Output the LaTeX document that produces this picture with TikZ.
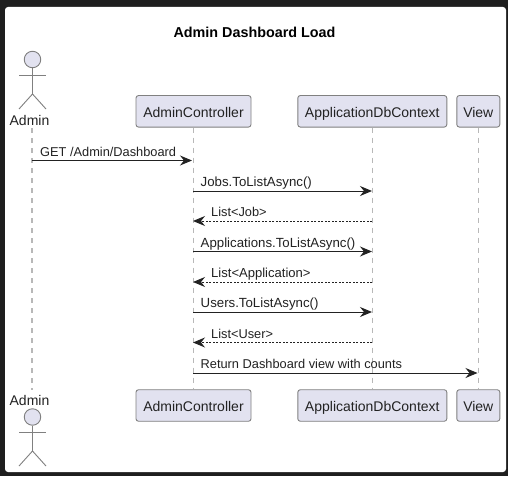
\documentclass[tikz,border=0pt]{standalone}
\usepackage{fontspec}
\setmainfont{Liberation Sans}
\usetikzlibrary{arrows.meta}
\definecolor{pagedark}{HTML}{1E1E1E}
\definecolor{boxfill}{HTML}{E2E2F0}
\definecolor{boxline}{HTML}{808080}
\definecolor{lifegrey}{HTML}{B8B8B8}
\definecolor{inkdark}{HTML}{222222}
\tikzset{
  box/.style={draw=boxline,fill=boxfill,rounded corners=2.5pt,line width=0.9pt,minimum height=31.5pt,inner sep=0pt,text height=12pt,text depth=0pt,text=inkdark,font=\fontsize{14}{16}\selectfont},
  lifeline/.style={draw=lifegrey,line width=1.1pt,dash pattern=on 5pt off 5pt},
  msg/.style={draw=inkdark,line width=1pt,-{Stealth[length=12pt,width=10pt,inset=4pt]}},
  reply/.style={msg,dash pattern=on 2pt off 1.5pt},
  msglabel/.style={anchor=base west,inner sep=0pt,text=inkdark,font=\fontsize{12.8}{15}\selectfont},
  msgwide/.style={msglabel,font=\fontsize{13.25}{15}\selectfont},
  actorhead/.style={circle,draw=boxline,fill=boxfill,line width=0.9pt,minimum size=16.5pt,inner sep=0pt},
  actorline/.style={draw=boxline,line width=0.9pt},
  actorname/.style={inner sep=0pt,text=inkdark,font=\fontsize{14}{16}\selectfont},
}
\begin{document}
\begin{tikzpicture}[x=1pt,y=-1pt]
\useasboundingbox (0,0) rectangle (508,476);
\fill[pagedark] (0,0) rectangle (508,476);
\fill[white,rounded corners=3pt] (5,7) rectangle (506,472);
\node[inner sep=0pt,text=black,font=\bfseries\fontsize{14.35}{16}\selectfont] (title) at (254.5,32) {Admin Dashboard Load};
% top row
\node[actorhead] (headtop) at (32.5,59.5) {};
\node[actorname] (admintop) at (29.5,120) {Admin};
\node[box,minimum width=115pt] (ctrltop) at (193.5,111.3) {AdminController};
\node[box,minimum width=149pt] (dbtop) at (372.3,111.3) {ApplicationDbContext};
\node[box,minimum width=43pt] (viewtop) at (478.3,111.3) {View};
% bottom row
\node[actorhead] (headbot) at (32.5,417) {};
\node[actorname] (adminbot) at (29.5,400) {Admin};
\node[box,minimum width=115pt] (ctrlbot) at (193.5,405.5) {AdminController};
\node[box,minimum width=149pt] (dbbot) at (372.3,405.5) {ApplicationDbContext};
\node[box,minimum width=43pt] (viewbot) at (478.3,405.5) {View};
% stick figures
\coordinate (hiptop) at (32.5,94);
\coordinate (armltop) at (19,75);
\coordinate (armrtop) at (46,75);
\coordinate (legltop) at (19,109);
\coordinate (legrtop) at (46,109);
\draw[actorline] (headtop) -- (hiptop);
\draw[actorline] (armltop) -- (armrtop);
\draw[actorline] (legltop) -- (hiptop) -- (legrtop);
\coordinate (hipbot) at (32.5,451);
\coordinate (armlbot) at (19,432);
\coordinate (armrbot) at (46,432);
\coordinate (leglbot) at (19,466);
\coordinate (legrbot) at (46,466);
\draw[actorline] (headbot) -- (hipbot);
\draw[actorline] (armlbot) -- (armrbot);
\draw[actorline] (leglbot) -- (hipbot) -- (legrbot);
% lifelines
\coordinate (adminstart) at (32,128);
\coordinate (adminend) at (32,390);
\draw[lifeline] (adminstart) -- (adminend);
\draw[lifeline] (ctrltop) -- (ctrlbot);
\draw[lifeline] (dbtop) -- (dbbot);
\draw[lifeline] (viewtop) -- (viewbot);
% ends of the messages
\coordinate (a1) at (32,160.5);
\coordinate (c1) at (192,160.5);
\coordinate (c2) at (193,191);
\coordinate (d2) at (372,191);
\coordinate (c3) at (193,221);
\coordinate (d3) at (372,221);
\coordinate (c4) at (193,251.5);
\coordinate (d4) at (372,251.5);
\coordinate (c5) at (193,282);
\coordinate (d5) at (372,282);
\coordinate (c6) at (193,312);
\coordinate (d6) at (372,312);
\coordinate (c7) at (193,342.5);
\coordinate (d7) at (372,342.5);
\coordinate (c8) at (193,373);
\coordinate (v8) at (477.5,373);
% messages
\draw[msg] (a1) -- (c1);
\draw[msg] (c2) -- (d2);
\draw[reply] (d3) -- (c3);
\draw[msg] (c4) -- (d4);
\draw[reply] (d5) -- (c5);
\draw[msg] (c6) -- (d6);
\draw[reply] (d7) -- (c7);
\draw[msg] (c8) -- (v8);
\node[msglabel] (m1) at (40,156) {GET /Admin/Dashboard};
\node[msgwide] (m2) at (200.5,186.5) {Jobs.ToListAsync()};
\node[msglabel] (m3) at (211,216.5) {List<Job>};
\node[msgwide] (m4) at (200.5,247) {Applications.ToListAsync()};
\node[msglabel,font=\fontsize{13.05}{15}\selectfont] (m5) at (211,277.5) {List<Application>};
\node[msgwide] (m6) at (200.5,307.5) {Users.ToListAsync()};
\node[msglabel] (m7) at (211,338) {List<User>};
\node[msglabel] (m8) at (200.5,368.5) {Return Dashboard view with counts};
\end{tikzpicture}
\end{document}
